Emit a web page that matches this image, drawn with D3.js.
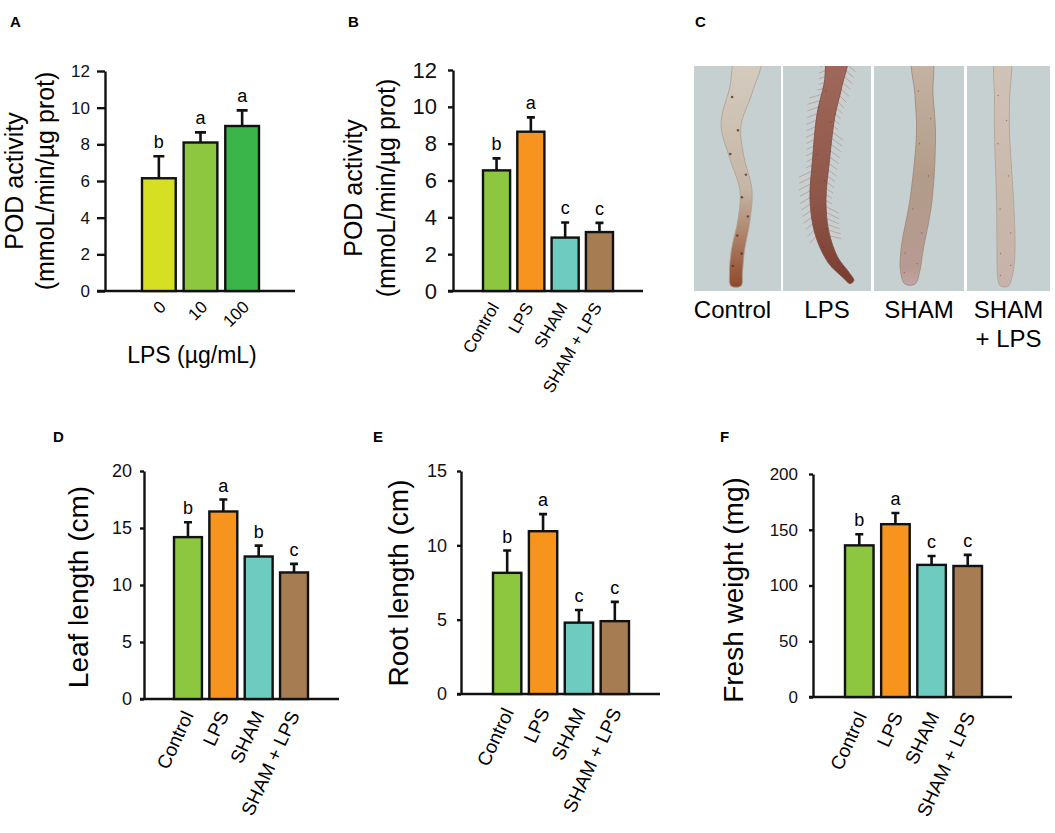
<!DOCTYPE html>
<html>
<head>
<meta charset="utf-8">
<title>POD activity and seedling growth</title>
<script src="https://cdn.jsdelivr.net/npm/d3@7/dist/d3.min.js"></script>
<style>
  body { margin: 0; background: #fff; }
  svg { display: block; font-family: "Liberation Sans", Arial, sans-serif; }
  .axis path, .axis line { stroke: #111; stroke-width: 2.4px; }
  .axis text { fill: #111; }
  .bar { stroke: #111; stroke-width: 2.4px; }
  .err { stroke: #111; stroke-width: 2.6px; }
</style>
</head>
<body>
<svg id="fig" width="1055" height="833"></svg>
<script>
// values (mean, upper error)
var lpsDoses = ['0', '10', '100'];
var podByDose = [6.15, 8.1, 9.0];
var podByDoseErr = [1.2, 0.55, 0.85];
var podByDoseSig = ['b', 'a', 'a'];

var treatments = ['Control', 'LPS', 'SHAM', 'SHAM + LPS'];
var podByTreat = [6.55, 8.65, 2.9, 3.2];
var podByTreatErr = [0.65, 0.78, 0.82, 0.5];
var podByTreatSig = ['b', 'a', 'c', 'c'];

var leafLength = [14.2, 16.45, 12.5, 11.1];
var leafLengthErr = [1.3, 1.05, 0.95, 0.75];
var leafLengthSig = ['b', 'a', 'b', 'c'];

var rootLength = [8.15, 10.95, 4.8, 4.9];
var rootLengthErr = [1.5, 1.15, 0.85, 1.3];
var rootLengthSig = ['b', 'a', 'c', 'c'];

var freshWeight = [136, 155, 118.5, 117.5];
var freshWeightErr = [10, 10, 8, 10];
var freshWeightSig = ['b', 'a', 'c', 'c'];

var doseColors = ['#d7df23', '#8dc63f', '#39b54a'];
var treatColors = ['#8dc63f', '#f7941d', '#6dcbbf', '#a67c52'];

var svg = d3.select('#fig');

function panelLetter(t, x, y) {
  svg.append('text').attr('x', x).attr('y', y)
    .attr('font-size', 15).attr('font-weight', 'bold').text(t);
}

function barPanel(o) {
  var g = svg.append('g');

  var y = d3.scaleLinear().domain([0, o.yMax]).range([o.y0, o.yTop]);
  var x = d3.scaleBand().domain(o.cats).range([o.barsFrom, o.barsTo])
    .paddingInner(o.pad).paddingOuter(0);

  // y axis
  g.append('g')
    .attr('class', 'axis')
    .attr('transform', 'translate(' + o.axisX + ',0)')
    .call(d3.axisLeft(y)
      .tickValues(d3.range(0, o.yMax + o.step / 2, o.step))
      .tickSize(o.tick).tickSizeOuter(0).tickPadding(o.tickPad))
    .call(a => a.selectAll('text').attr('font-size', o.tickFont));

  // x axis baseline
  g.append('line')
    .attr('x1', o.axisX - o.tick).attr('x2', o.xEnd)
    .attr('y1', o.y0).attr('y2', o.y0)
    .attr('stroke', '#111').attr('stroke-width', 2.4);

  var rows = o.cats.map((c, i) => ({ c: c, v: o.values[i], e: o.errs[i], s: o.sig[i], col: o.colors[i] }));

  // error bars (upper only)
  g.selectAll('.err').data(rows).enter().append('path')
    .attr('class', 'err')
    .attr('fill', 'none')
    .attr('d', d => {
      var cx = x(d.c) + x.bandwidth() / 2;
      return 'M' + cx + ',' + y(d.v) + 'V' + y(d.v + d.e) +
        'M' + (cx - o.cap / 2) + ',' + y(d.v + d.e) + 'H' + (cx + o.cap / 2);
    });

  g.selectAll('.bar').data(rows).enter().append('rect')
    .attr('class', 'bar')
    .attr('x', d => x(d.c))
    .attr('y', d => y(d.v))
    .attr('width', x.bandwidth())
    .attr('height', d => o.y0 - y(d.v))
    .attr('fill', d => d.col);

  // significance letters
  g.selectAll('.sig').data(rows).enter().append('text')
    .attr('x', d => x(d.c) + x.bandwidth() / 2)
    .attr('y', d => y(d.v + d.e) - 8)
    .attr('text-anchor', 'middle')
    .attr('font-size', 18)
    .text(d => d.s);

  // category labels, rotated
  g.selectAll('.cat').data(rows).enter().append('text')
    .attr('text-anchor', 'end')
    .attr('font-size', o.labelFont)
    .attr('transform', d => 'translate(' + (x(d.c) + x.bandwidth() / 2 + o.labelDx) + ',' +
      (o.y0 + o.labelDy) + ') rotate(' + o.labelAngle + ')')
    .text(d => d.c);

  // y title (one or two lines)
  o.yTitle.forEach((t, i) => {
    g.append('text')
      .attr('text-anchor', 'middle')
      .attr('font-size', o.titleFont)
      .attr('transform', 'translate(' + o.titleX[i] + ',' + o.titleY + ') rotate(-90)')
      .text(t);
  });

  if (o.xTitle) {
    g.append('text')
      .attr('x', o.xTitle.x).attr('y', o.xTitle.y)
      .attr('text-anchor', 'middle')
      .attr('font-size', 23)
      .text(o.xTitle.text);
  }
}

// A
panelLetter('A', 10, 27);
barPanel({
  cats: lpsDoses, values: podByDose, errs: podByDoseErr, sig: podByDoseSig, colors: doseColors,
  yMax: 12, step: 2, yTop: 71, y0: 291, axisX: 105, xEnd: 295,
  barsFrom: 142, barsTo: 259, pad: 0.19, cap: 11,
  tick: 8, tickPad: 7, tickFont: 17,
  labelAngle: -45, labelFont: 17, labelDx: 8, labelDy: 17,
  yTitle: ['POD activity', '(mmoL/min/\u00b5g prot)'], titleX: [23, 54], titleY: 181, titleFont: 25,
  xTitle: { text: 'LPS (\u00b5g/mL)', x: 192, y: 363 }
});

// B
panelLetter('B', 348, 27);
barPanel({
  cats: treatments, values: podByTreat, errs: podByTreatErr, sig: podByTreatSig, colors: treatColors,
  yMax: 12, step: 2, yTop: 70, y0: 291, axisX: 453, xEnd: 643,
  barsFrom: 483, barsTo: 613, pad: 0.21, cap: 8,
  tick: 5, tickPad: 11, tickFont: 22,
  labelAngle: -60, labelFont: 17, labelDx: 3, labelDy: 16,
  yTitle: ['POD activity', '(mmoL/min/\u00b5g prot)'], titleX: [362, 395], titleY: 188, titleFont: 25
});

// D
panelLetter('D', 53, 442);
barPanel({
  cats: treatments, values: leafLength, errs: leafLengthErr, sig: leafLengthSig, colors: treatColors,
  yMax: 20, step: 5, yTop: 471, y0: 699, axisX: 144, xEnd: 339,
  barsFrom: 174, barsTo: 308, pad: 0.21, cap: 8,
  tick: 4, tickPad: 8, tickFont: 18,
  labelAngle: -65, labelFont: 19, labelDx: 6, labelDy: 16,
  yTitle: ['Leaf length (cm)'], titleX: [88], titleY: 587, titleFont: 28
});

// E
panelLetter('E', 373, 442);
barPanel({
  cats: treatments, values: rootLength, errs: rootLengthErr, sig: rootLengthSig, colors: treatColors,
  yMax: 15, step: 5, yTop: 471, y0: 694, axisX: 461, xEnd: 660,
  barsFrom: 493, barsTo: 629, pad: 0.21, cap: 8,
  tick: 4, tickPad: 10, tickFont: 18,
  labelAngle: -65, labelFont: 19, labelDx: 7, labelDy: 18,
  yTitle: ['Root length (cm)'], titleX: [408], titleY: 583, titleFont: 28
});

// F
panelLetter('F', 720, 442);
barPanel({
  cats: treatments, values: freshWeight, errs: freshWeightErr, sig: freshWeightSig, colors: treatColors,
  yMax: 200, step: 50, yTop: 474, y0: 697, axisX: 813, xEnd: 1012,
  barsFrom: 845, barsTo: 982, pad: 0.21, cap: 8,
  tick: 4, tickPad: 11, tickFont: 17,
  labelAngle: -65, labelFont: 19, labelDx: 8, labelDy: 19,
  yTitle: ['Fresh weight (mg)'], titleX: [743], titleY: 590, titleFont: 28
});

// C: root photographs, drawn as an illustration
panelLetter('C', 695, 27);

var photoFrames = [[694, 781], [783, 871], [874, 964], [967, 1050]];
var photoTop = 66, photoBottom = 291;
var photoLabels = [['Control'], ['LPS'], ['SHAM'], ['SHAM', '+ LPS']];

// centreline [x, y, width] and colour stops of each root
var roots = [
  { pts: [[749, 55, 24], [741, 90, 23], [731, 125, 20], [737, 158, 14], [746, 190, 12], [744, 220, 12],
          [738, 250, 13], [736, 272, 13], [736, 286, 10]],
    stops: [['0%', '#d3cbbf'], ['55%', '#c6b6a5'], ['80%', '#a7765c'], ['100%', '#8d4527']] },
  { pts: [[838, 55, 18], [833, 85, 18], [826, 115, 18], [821, 160, 17], [818, 200, 16], [822, 233, 14],
          [833, 260, 11], [846, 275, 8], [852, 282, 5]],
    stops: [['0%', '#a0685a'], ['60%', '#8e5649'], ['100%', '#7a3a2e']], hairs: true },
  { pts: [[922, 55, 18], [924, 95, 18], [926, 133, 19], [921, 200, 22], [912, 250, 22], [910, 272, 19], [910, 284, 10]],
    stops: [['0%', '#c4b2a2'], ['50%', '#b29c89'], ['90%', '#b89a93'], ['100%', '#c8a8a8']] },
  { pts: [[1003, 55, 13], [1002, 100, 15], [1002, 133, 15], [1005, 200, 17], [1006, 250, 18], [1005, 275, 15], [1004, 286, 8]],
    stops: [['0%', '#cfc2b6'], ['70%', '#c7b7a9'], ['100%', '#c9b1ad']] }
];

var defs = svg.append('defs');
var photo = svg.append('g');

photoFrames.forEach((f, i) => {
  defs.append('clipPath').attr('id', 'clip' + i)
    .append('rect').attr('x', f[0]).attr('y', photoTop)
    .attr('width', f[1] - f[0]).attr('height', photoBottom - photoTop);

  photo.append('rect')
    .attr('x', f[0]).attr('y', photoTop)
    .attr('width', f[1] - f[0]).attr('height', photoBottom - photoTop)
    .attr('fill', '#c7d0d1');

  var grad = defs.append('linearGradient').attr('id', 'rootGrad' + i)
    .attr('gradientUnits', 'userSpaceOnUse')
    .attr('x1', 0).attr('x2', 0).attr('y1', photoTop).attr('y2', photoBottom);
  roots[i].stops.forEach(s => grad.append('stop').attr('offset', s[0]).attr('stop-color', s[1]));

  var r = roots[i];
  var pts = r.pts;
  var left = [], right = [];
  pts.forEach((p, k) => {
    var a = pts[Math.max(0, k - 1)], b = pts[Math.min(pts.length - 1, k + 1)];
    var dx = b[0] - a[0], dy = b[1] - a[1], len = Math.hypot(dx, dy);
    var nx = -dy / len, ny = dx / len;
    left.push([p[0] + nx * p[2] / 2, p[1] + ny * p[2] / 2]);
    right.push([p[0] - nx * p[2] / 2, p[1] - ny * p[2] / 2]);
  });

  var layer = photo.append('g').attr('clip-path', 'url(#clip' + i + ')');

  if (r.hairs) {
    // root hairs along both flanks
    var centre = d3.line().curve(d3.curveCatmullRom)(pts.map(p => [p[0], p[1]]));
    var tmp = layer.append('path').attr('d', centre).attr('fill', 'none');
    var node = tmp.node(), total = node.getTotalLength();
    for (var s = 6; s < total * 0.78; s += 3.2) {
      var p0 = node.getPointAtLength(s), p1 = node.getPointAtLength(s + 1);
      var tx = p1.x - p0.x, ty = p1.y - p0.y, tl = Math.hypot(tx, ty);
      var side = (Math.round(s / 3.2) % 2) ? 1 : -1;
      var nx = -ty / tl * side, ny = tx / tl * side;
      var hl = 7 + (Math.round(s) % 7);
      layer.append('line')
        .attr('x1', p0.x + nx * 7).attr('y1', p0.y + ny * 7)
        .attr('x2', p0.x + nx * (7 + hl) + tx / tl * hl * 0.6)
        .attr('y2', p0.y + ny * (7 + hl) + ty / tl * hl * 0.6)
        .attr('stroke', '#b98d88').attr('stroke-width', 0.8).attr('opacity', 0.8);
    }
    tmp.remove();
  }

  var outline = left.concat(right.reverse());
  layer.append('path')
    .attr('d', d3.line().curve(d3.curveCatmullRomClosed)(outline))
    .attr('fill', 'url(#rootGrad' + i + ')')
    .attr('stroke', d3.color(r.stops[1][1]).darker(0.4))
    .attr('stroke-width', 0.8);

  // a few dark specks on the root surface
  [0.15, 0.27, 0.36, 0.44, 0.53, 0.61, 0.69, 0.77, 0.84].forEach((t, k) => {
    var idx = Math.min(pts.length - 2, Math.floor(t * (pts.length - 1)));
    var f2 = t * (pts.length - 1) - idx;
    var px = pts[idx][0] + (pts[idx + 1][0] - pts[idx][0]) * f2;
    var py = pts[idx][1] + (pts[idx + 1][1] - pts[idx][1]) * f2;
    var w = pts[idx][2] * 0.3 * (k % 2 ? 1 : -1);
    layer.append('circle').attr('cx', px + w).attr('cy', py).attr('r', i === 0 ? 1.2 : 0.7)
      .attr('fill', '#5a2a22').attr('opacity', i === 0 ? 0.8 : 0.45);
  });

  photoLabels[i].forEach((t, k) => {
    photo.append('text')
      .attr('x', (f[0] + f[1]) / 2 + (i === 0 ? -5 : 0))
      .attr('y', 318 + k * 29)
      .attr('text-anchor', 'middle')
      .attr('font-size', 24)
      .text(t);
  });
});
</script>
</body>
</html>
